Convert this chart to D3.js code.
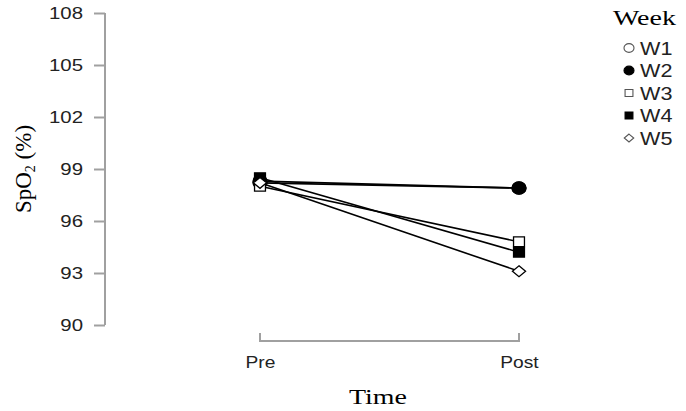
<!DOCTYPE html>
<html>
<head>
<meta charset="utf-8">
<script src="https://cdn.jsdelivr.net/npm/d3@7"></script>
<style>
  body { margin: 0; background: #fff; }
  svg { display: block; }
</style>
</head>
<body>
<svg id="chart" width="686" height="411"></svg>
<script>
const times = ["Pre", "Post"];
const weeks = ["W1", "W2", "W3", "W4", "W5"];
const preValues = [98.2, 98.3, 98.0, 98.5, 98.2];
const postValues = [97.9, 97.9, 94.8, 94.2, 93.1];
const yTicks = [90, 93, 96, 99, 102, 105, 108];

// symbol + fill per week
const shapes = [
  { kind: "circle", fill: "#fff" },
  { kind: "circle", fill: "#000" },
  { kind: "square", fill: "#fff" },
  { kind: "square", fill: "#000" },
  { kind: "diamond", fill: "#fff" },
];

const svg = d3.select("#chart");
const axisColor = "#a0a0a0";
const sans = "'Liberation Sans', Arial, sans-serif";
const serif = "'Liberation Serif', 'Times New Roman', serif";
const stretch = 1.2; // the picture is a bit wider than tall

const x = d3.scalePoint().domain(times).range([260, 519]);
const y = d3.scaleLinear().domain([90, 108]).range([325, 13]);

// y axis
const yAxis = svg.append("g")
  .attr("transform", "translate(105,0)")
  .call(d3.axisLeft(y).tickValues(yTicks).tickSize(11));
yAxis.attr("font-family", null);
yAxis.select(".domain").attr("stroke", axisColor).attr("stroke-width", 2).attr("d", "M0,13V325");
yAxis.selectAll(".tick line").attr("stroke", axisColor).attr("stroke-width", 2);
yAxis.selectAll(".tick text")
  .attr("x", 0)
  .attr("transform", `translate(-22,0) scale(${stretch},1)`)
  .attr("fill", "#222")
  .style("font-family", sans)
  .style("font-size", "17px");

// x axis
const xAxis = svg.append("g")
  .attr("transform", "translate(0,341)")
  .call(d3.axisBottom(x).tickSize(0));
xAxis.attr("font-family", null);
xAxis.select(".domain")
  .attr("stroke", axisColor).attr("stroke-width", 2)
  .attr("d", `M${x("Pre")},-8V0H${x("Post")}V-8`);
xAxis.selectAll(".tick text")
  .attr("y", 0).attr("dy", 0)
  .attr("transform", `translate(0,27) scale(${stretch},1)`)
  .attr("fill", "#222")
  .style("font-family", sans)
  .style("font-size", "16px");

// axis titles
svg.append("text")
  .attr("transform", `translate(378,404) scale(1.27,1)`)
  .attr("text-anchor", "middle")
  .style("font-family", serif)
  .style("font-size", "22px")
  .text("Time");

const yl = svg.append("text")
  .attr("transform", "translate(31,169) rotate(-90)")
  .attr("text-anchor", "middle")
  .style("font-family", serif)
  .style("font-size", "23px");
yl.append("tspan").text("SpO");
yl.append("tspan").attr("font-size", "14px").attr("dy", 4).text("2");
yl.append("tspan").attr("dy", -4).text(" (%)");

// lines + markers
const data = weeks.map((w, i) => ({ week: w, i, values: [preValues[i], postValues[i]] }));

const line = d3.line().x((d, j) => x(times[j])).y((d) => y(d));

svg.append("g")
  .selectAll("path")
  .data(data)
  .join("path")
  .attr("d", (d) => line(d.values))
  .attr("fill", "none")
  .attr("stroke", "#000")
  .attr("stroke-width", 1.6);

function marker(g, s, cx, cy, big) {
  const k = big ? 1 : 0.72;
  let d, t;
  if (s.kind === "circle") {
    d = d3.symbol().type(d3.symbolCircle).size(115 * k * k)();
    t = `translate(${cx},${cy}) scale(1.15,1)`;
  } else if (s.kind === "square") {
    d = d3.symbol().type(d3.symbolSquare).size(95 * k * k)();
    t = `translate(${cx},${cy}) scale(1.12,1)`;
  } else {
    d = d3.symbol().type(d3.symbolSquare).size(60 * k * k)();
    t = `translate(${cx},${cy}) scale(1.2,1) rotate(45)`;
  }
  g.append("path")
    .attr("d", d)
    .attr("transform", t)
    .attr("fill", s.fill)
    .attr("stroke", big || s.fill === "#000" ? "#000" : "#555")
    .attr("stroke-width", big ? 1.3 : 1.1)
    .attr("vector-effect", "non-scaling-stroke");
}

const marks = svg.append("g");
data.forEach((d) => {
  d.values.forEach((v, j) => marker(marks, shapes[d.i], x(times[j]), y(v), true));
});

// legend
const legend = svg.append("g");
legend.append("text")
  .attr("transform", "translate(613,25) scale(1.27,1)")
  .style("font-family", serif)
  .style("font-size", "22px")
  .text("Week");

weeks.forEach((w, i) => {
  const yy = 48 + i * 22.5;
  marker(legend, shapes[i], 629, yy, false);
  legend.append("text")
    .attr("transform", `translate(640,${yy + 6.5}) scale(${stretch},1)`)
    .style("font-family", sans)
    .style("font-size", "18px")
    .attr("fill", "#222")
    .text(w);
});
</script>
</body>
</html>
